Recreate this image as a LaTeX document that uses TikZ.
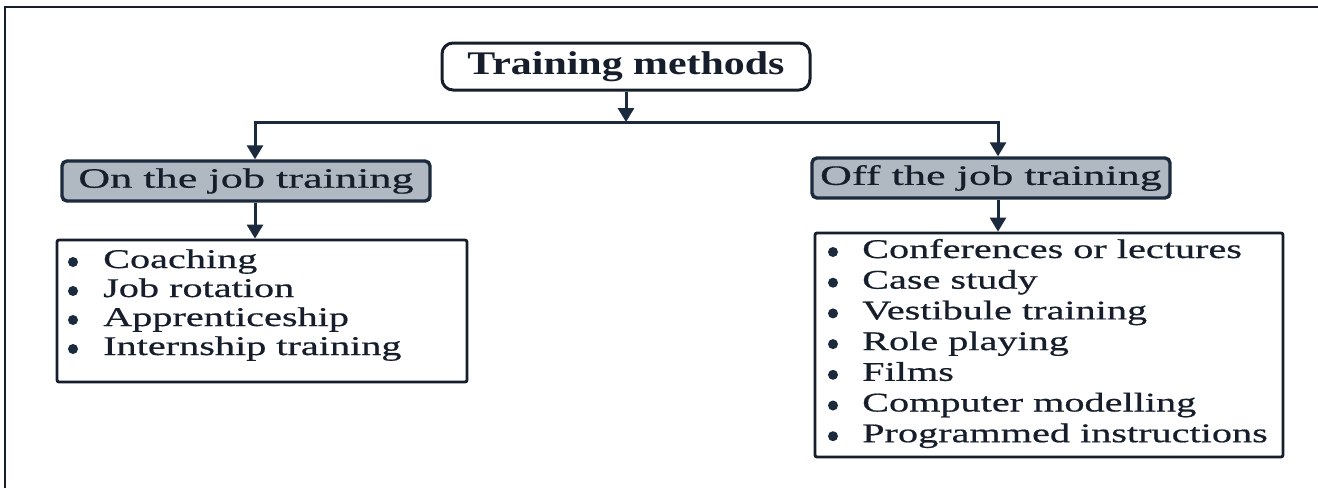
\documentclass[tikz,border=0pt]{standalone}
\usepackage{fontspec}
\setmainfont{Liberation Serif}[FakeStretch=1.58,FakeBold=0.6]
\newfontfamily\listfont{Liberation Serif}[FakeStretch=1.49,FakeBold=0.6]
\newfontfamily\titlefont{Liberation Serif}[FakeStretch=1.27]
\usetikzlibrary{arrows.meta}
\definecolor{ink}{RGB}{22,30,44}
\definecolor{navy}{RGB}{28,42,62}
\definecolor{boxgray}{RGB}{176,185,194}
\begin{document}
\begin{tikzpicture}[x=1pt,y=-1pt,
  arr/.style={draw=navy, line width=3pt, -{Triangle[width=16pt,length=14pt]}},
  titlebox/.style={draw=ink, line width=3pt, rounded corners=11pt, fill=white, minimum width=368pt, minimum height=47pt, inner sep=0pt, font=\titlefont\bfseries\fontsize{33}{36}\selectfont, text=ink},
  graybox/.style={draw=navy, line width=3.4pt, rounded corners=5pt, fill=boxgray, minimum height=40pt, inner sep=0pt, font=\fontsize{28}{30}\selectfont, text=ink},
  listbox/.style={draw=ink, line width=2.8pt, rounded corners=2pt, fill=white, inner sep=0pt},
  item/.style={anchor=base west, inner sep=0pt, font=\listfont\fontsize{27}{29}\selectfont, text=ink},
  dot/.style={fill=navy}]

\useasboundingbox (0,0) rectangle (1318,488);
\fill[white] (0,0) rectangle (1318,488);
\draw[ink, line width=2.4pt] (5,488) -- (5,7) -- (1318,7);

\node[titlebox] (title) at (626,66.5) {Training methods};
\node[graybox, minimum width=368pt] (onjob) at (246,181) {On the job training};
\node[graybox, minimum width=358pt] (offjob) at (991,178) {Off the job training};
\node[listbox, minimum width=410pt, minimum height=142pt] (onlist) at (262,311) {};
\node[listbox, minimum width=468pt, minimum height=224pt] (offlist) at (1049,345) {};

\coordinate (split) at (626,122);
\draw[arr] (title.south) -- (split);
\draw[arr] (split) -| ([xshift=9pt]onjob.north);
\draw[arr] (split) -| ([xshift=7pt]offjob.north);
\draw[arr] ([xshift=9pt]onjob.south) -- ([xshift=9pt]onjob.south |- onlist.north);
\draw[arr] ([xshift=7pt]offjob.south) -- ([xshift=7pt]offjob.south |- offlist.north);

\foreach \t [count=\i from 0] in {Coaching, Job rotation, Apprenticeship, Internship training} {
  \fill[dot] (73, 262+29*\i) circle (5pt);
  \node[item] (on\i) at (103, 268+29*\i) {\t};
}
\foreach \t [count=\i from 0] in {Conferences or lectures, Case study, Vestibule training, Role playing, Films, Computer modelling, Programmed instructions} {
  \fill[dot] (833, 252+30.7*\i) circle (5pt);
  \node[item] (off\i) at (862, 258+30.7*\i) {\t};
}
\end{tikzpicture}
\end{document}
